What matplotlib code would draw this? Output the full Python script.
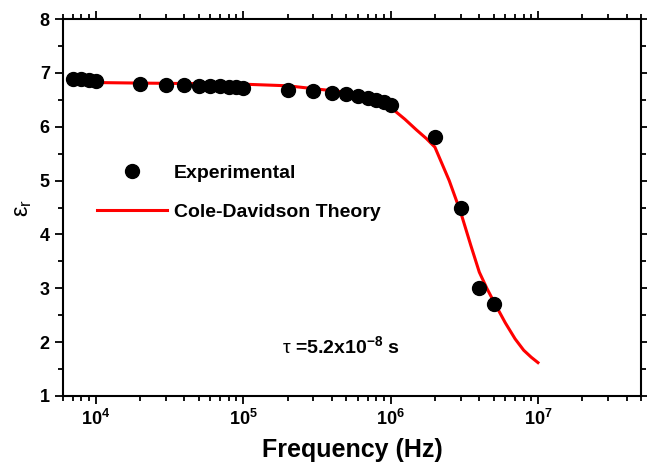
import math

import matplotlib
matplotlib.use("Agg")
import matplotlib.pyplot as plt
from matplotlib.lines import Line2D
from matplotlib.ticker import FixedLocator, FuncFormatter, LogLocator, MultipleLocator, NullFormatter

plt.rcParams["font.family"] = ["Liberation Sans", "DejaVu Sans"]
plt.rcParams["mathtext.fontset"] = "custom"
plt.rcParams["mathtext.rm"] = "Liberation Sans"
plt.rcParams["mathtext.bf"] = "Liberation Sans:bold"
plt.rcParams["mathtext.it"] = "Liberation Sans:italic"

# experimental points
exp_freq = [7e3, 8e3, 9e3, 1e4, 2e4, 3e4, 4e4, 5e4, 6e4, 7e4, 8e4, 9e4, 1e5,
            2e5, 3e5, 4e5, 5e5, 6e5, 7e5, 8e5, 9e5, 1e6, 2e6, 3e6, 4e6, 5e6]
exp_eps = [6.88, 6.88, 6.86, 6.84, 6.80, 6.78, 6.78, 6.76, 6.76, 6.75, 6.74, 6.73, 6.72,
           6.68, 6.66, 6.63, 6.60, 6.57, 6.54, 6.50, 6.46, 6.40, 5.80, 4.50, 3.00, 2.70]

# Cole-Davidson fit
fit_freq = [7e3, 1e4, 2e4, 5e4, 1e5, 2e5, 5e5, 8e5, 1e6, 1.25e6, 1.5e6, 1.75e6, 2e6,
            2.5e6, 3e6, 3.5e6, 4e6, 4.5e6, 5e6, 6e6, 7e6, 8e6, 9e6, 1e7]
fit_eps = [6.82, 6.82, 6.81, 6.80, 6.79, 6.76, 6.64, 6.48, 6.36, 6.14, 5.94, 5.78, 5.62,
           5.00, 4.40, 3.80, 3.30, 3.00, 2.76, 2.36, 2.06, 1.85, 1.72, 1.62]

fig = plt.figure(figsize=(6.47, 4.68), dpi=100)
ax = fig.add_axes([63 / 647, 1 - 396 / 468, 578 / 647, 377 / 468])

ax.plot(fit_freq, fit_eps, color="#ff0000", lw=2.2, zorder=2)
ax.plot(exp_freq, exp_eps, "o", color="black", ms=10, zorder=3)

ax.set_xscale("log")
ax.set_xlim(6e3, 5e7)
ax.set_ylim(1, 8)

ax.xaxis.set_major_locator(FixedLocator([1e4, 1e5, 1e6, 1e7]))
ax.xaxis.set_major_formatter(FuncFormatter(lambda v, p: r"$\mathbf{10^{%d}}$" % round(math.log10(v))))
ax.xaxis.set_minor_locator(LogLocator(base=10, subs=range(2, 10), numticks=20))
ax.xaxis.set_minor_formatter(NullFormatter())
ax.yaxis.set_major_locator(MultipleLocator(1))
ax.yaxis.set_minor_locator(MultipleLocator(0.5))

ax.tick_params(which="both", direction="out", top=True, right=True, labeltop=False, labelright=False, width=1.3)
ax.tick_params(which="major", length=6, labelsize=13)
ax.tick_params(which="minor", length=3.5)
for lbl in ax.get_yticklabels():
    lbl.set_fontweight("bold")
for sp in ax.spines.values():
    sp.set_linewidth(1.5)

ax.set_xlabel("Frequency (Hz)", fontsize=18, fontweight="bold", labelpad=6)
ax.set_ylabel(r"$\mathregular{\varepsilon_r}$", fontsize=17, labelpad=4)

handles = [
    Line2D([], [], marker="o", ls="none", color="black", ms=10),
    Line2D([], [], color="#ff0000", lw=2.2),
]
ax.legend(handles, ["Experimental", "Cole-Davidson Theory"], loc="upper left",
          bbox_to_anchor=(97 / 647, 1 - 164 / 468), bbox_transform=fig.transFigure,
          frameon=False, borderpad=0, borderaxespad=0, handlelength=3.6,
          handletextpad=0.35, labelspacing=1.12,
          prop={"size": 14, "weight": "bold"})

ax.text(4.6e5, 1.93, r"$\mathrm{\tau}$ =5.2x10$^{\mathbf{-8}}$ s", fontsize=14, fontweight="bold",
        ha="center", va="center")

fig.savefig("out.png", dpi=100)
